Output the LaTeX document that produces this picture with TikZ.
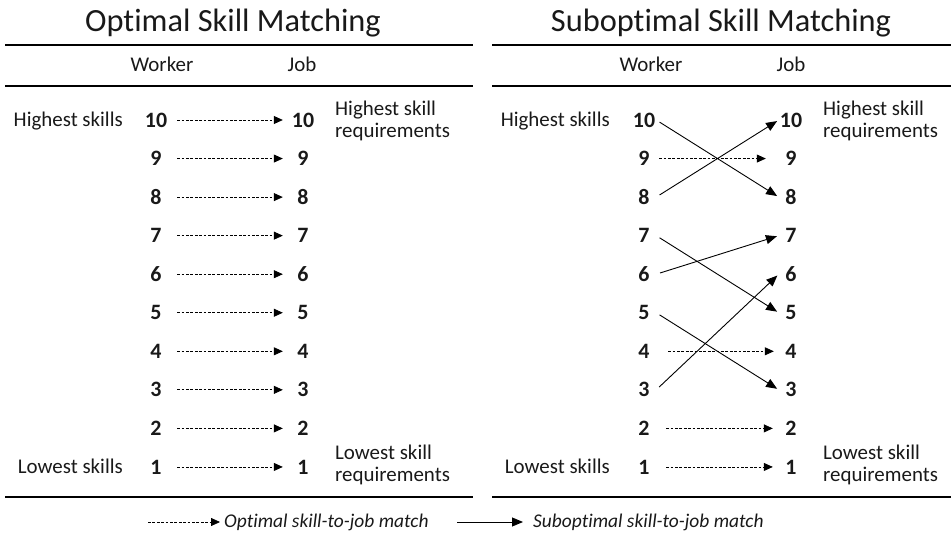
\documentclass[tikz,border=0pt]{standalone}
\usepackage{fontspec}
\setmainfont{Carlito}[Ligatures=CommonOff]
\usetikzlibrary{arrows.meta}
\begin{document}
\begin{tikzpicture}[x=1bp,y=-1bp,
  every node/.style={inner sep=0pt,font=\fontsize{21}{24}\selectfont,text=black!90},
  num/.style={font=\fontsize{22}{24}\selectfont\bfseries,minimum width=24bp},
  head/.style={font=\fontsize{32.5}{36}\selectfont,anchor=base},
  side/.style={align=left,anchor=west,font=\fontsize{21}{22.5}\selectfont},
  legend/.style={anchor=west,font=\fontsize{19.5}{22}\selectfont\itshape},
  optarrow/.style={-{Triangle[length=9bp,width=8bp]},dash pattern=on 2.8bp off 1.6bp,line width=0.8bp},
  subarrow/.style={-{Triangle[length=11bp,width=9bp]},line width=0.9bp,shorten <=4bp,shorten >=2bp},
  rule/.style={line width=1.2bp}]
  \useasboundingbox (0,0) rectangle (951,534);

  % titles and rules
  \node[head] (ltitle) at (233,32) {Optimal Skill Matching};
  \node[head] (rtitle) at (721,32) {Suboptimal Skill Matching};
  \draw[rule] (5,45) -- (473,45) (5,86) -- (473,86) (5,497) -- (473,497);
  \draw[rule] (492,45) -- (951,45) (492,86) -- (951,86) (492,497) -- (951,497);
  \node[anchor=base] (lworker) at (162,72) {Worker};
  \node[anchor=base] (ljob) at (302,72) {Job};
  \node[anchor=base] (rworker) at (651,72) {Worker};
  \node[anchor=base] (rjob) at (791,72) {Job};

  % numbers in both panels
  \foreach \n in {1,...,10} {
    \node[num] (lw\n) at (156,{120+(10-\n)*38.55}) {\n};
    \node[num] (lj\n) at (303,{120+(10-\n)*38.55}) {\n};
    \node[num] (rw\n) at (644,{120+(10-\n)*38.55}) {\n};
    \node[num] (rj\n) at (791,{120+(10-\n)*38.55}) {\n};
    \draw[optarrow,shorten <=9bp,shorten >=8bp] (lw\n) -- (lj\n);
  }

  % side labels
  \node[anchor=base east] (lhigh) at (123,126.5) {Highest skills};
  \node[anchor=base east] (llow) at (123,473) {Lowest skills};
  \node[anchor=base east] (rhigh) at (610,126.5) {Highest skills};
  \node[anchor=base east] (rlow) at (610,473) {Lowest skills};
  \node[side] (lhighreq) at (335,121) {Highest skill\\requirements};
  \node[side] (llowreq) at (335,465) {Lowest skill\\requirements};
  \node[side] (rhighreq) at (823,121) {Highest skill\\requirements};
  \node[side] (rlowreq) at (823,465) {Lowest skill\\requirements};

  % suboptimal panel
  \draw[optarrow,shorten <=3bp,shorten >=13bp] (rw9) -- (rj9);
  \draw[optarrow,shorten <=12bp,shorten >=5bp] (rw4) -- (rj4);
  \draw[optarrow,shorten <=10bp,shorten >=6bp] (rw2) -- (rj2);
  \draw[optarrow,shorten <=10bp,shorten >=6bp] (rw1) -- (rj1);
  \draw[subarrow] (rw10.east) -- (rj8.west);
  \draw[subarrow] (rw8.east) -- (rj10.west);
  \draw[subarrow] (rw7.east) -- (rj5.west);
  \draw[subarrow] (rw6.east) -- (rj7.west);
  \draw[subarrow] (rw5.east) -- (rj3.west);
  \draw[subarrow] (rw3.east) -- (rj6.west);

  % legend
  \coordinate (optstart) at (148,522);
  \coordinate (substart) at (457,522);
  \node[legend] (opttext) at (224,522) {Optimal skill-to-job match};
  \node[legend] (subtext) at (533,522) {Suboptimal skill-to-job match};
  \draw[optarrow,shorten >=4bp] (optstart) -- (opttext.west);
  \draw[subarrow,shorten <=0bp,shorten >=10bp] (substart) -- (subtext.west);
\end{tikzpicture}
\end{document}
